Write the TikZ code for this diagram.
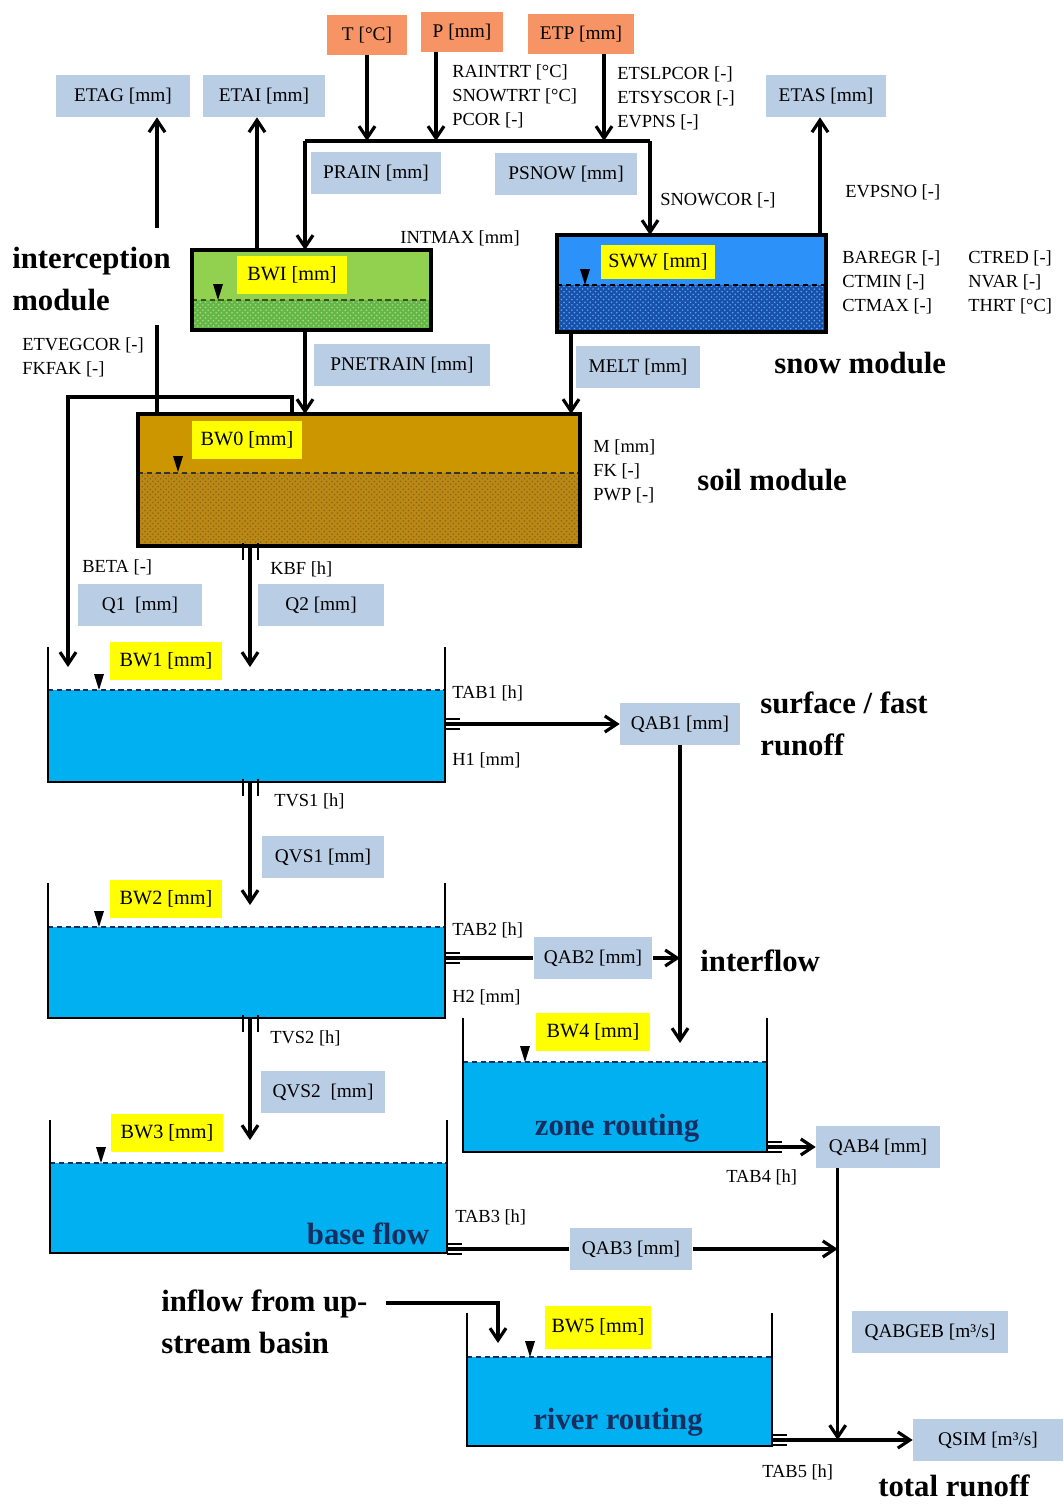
\documentclass[tikz,border=0pt]{standalone}
\usepackage{fontspec}
\setmainfont{Liberation Serif}
\usetikzlibrary{arrows.meta, positioning, patterns, calc}

\definecolor{inputorange}{RGB}{246,148,102}
\definecolor{fluxgrey}{RGB}{185,205,228}
\definecolor{labelyellow}{RGB}{255,255,0}
\definecolor{watercol}{RGB}{0,176,240}
\definecolor{leafgreen}{RGB}{146,208,80}
\definecolor{leafdark}{RGB}{100,182,72}
\definecolor{snowblue}{RGB}{45,145,250}
\definecolor{snowdark}{RGB}{25,80,170}
\definecolor{soilbrown}{RGB}{204,150,0}
\definecolor{soildark}{RGB}{186,136,22}
\definecolor{routenavy}{RGB}{22,45,95}

\begin{document}
\begin{tikzpicture}[x=0.02cm, y=-0.02cm,
        input/.style={fill=inputorange, minimum height=0.8cm, inner sep=1pt, font=\fontsize{11}{13}\selectfont},
        flux/.style={fill=fluxgrey, minimum height=0.84cm, inner sep=1pt, font=\fontsize{11}{13}\selectfont},
        storage/.style={fill=labelyellow, minimum height=0.76cm, inner sep=1pt, font=\fontsize{11.5}{13}\selectfont},
        param/.style={anchor=west, inner sep=0pt, align=left, font=\fontsize{10.5}{13.7}\selectfont},
        module/.style={anchor=west, inner sep=0pt, align=left, font=\fontsize{17.5}{23.8}\selectfont\bfseries},
        routing/.style={inner sep=0pt, text=routenavy, font=\fontsize{17.5}{20}\selectfont\bfseries},
        reservoir/.style={inner sep=0pt, outer sep=0pt},
        water/.style={reservoir, fill=watercol},
        bed/.style 2 args={fill=#1, postaction={pattern=crosshatch dots, pattern color=#2}},
        box/.style={line width=2pt},
        wall/.style={line width=1.4pt},
        surface/.style={line width=1pt, dash pattern=on 3pt off 2pt, routenavy},
        link/.style={line width=1.8pt},
        flow/.style={link, -{Straight Barb[length=2.4mm, width=3.2mm]}},
        pipe/.style={line width=1.1pt},
        surf/.pic={\fill (-5,-16) -- (5,-16) -- (0,0) -- cycle;}
    ]
    \useasboundingbox (0,0) rectangle (1064,1504);

    % Meteorological input
    \node[input, minimum width=1.62cm] (temp) at (367,35) {T [°C]};
    \node[input, minimum width=1.66cm] (prec) at (462,32) {P [mm]};
    \node[input, minimum width=2.14cm] (etp) at (581,34) {ETP [mm]};

    % Evaporation outputs
    \node[flux, minimum width=2.68cm] (etag) at (123,96) {ETAG [mm]};
    \node[flux, minimum width=2.46cm] (etai) at (264,96) {ETAI [mm]};
    \node[flux, minimum width=2.4cm] (etas) at (826,96) {ETAS [mm]};

    % Rain / snow split
    \coordinate (rainsplit) at (305,141);
    \coordinate (snowsplit) at (650,141);
    \node[flux, minimum width=2.6cm] (prain) at (376,173) {PRAIN [mm]};
    \node[flux, minimum width=2.86cm] (psnow) at (566,174) {PSNOW [mm]};

    % Parameters of the upper modules
    \node[param] (ptrain) at (452,96) {RAINTRT [°C]\\SNOWTRT [°C]\\PCOR [-]};
    \node[param] (petcor) at (617,98) {ETSLPCOR [-]\\ETSYSCOR [-]\\EVPNS [-]};
    \node[param] (psnowcor) at (660,200) {SNOWCOR [-]};
    \node[param] (pintmax) at (400,238) {INTMAX [mm]};
    \node[param] (pevpsno) at (845,192) {EVPSNO [-]};
    \node[param] (psnowa) at (842,282) {BAREGR [-]\\CTMIN [-]\\CTMAX [-]};
    \node[param] (psnowb) at (968,282) {CTRED [-]\\NVAR [-]\\THRT [°C]};
    \node[param] (pveg) at (22,357) {ETVEGCOR [-]\\FKFAK [-]};

    % Interception module
    \node[reservoir, fill=leafgreen, minimum width=4.78cm, minimum height=1.6cm] (bwi) at (311.5,290) {};
    \fill[bed={leafdark}{leafgreen!75!white}] (bwi.south west) rectangle ([yshift=0.6cm]bwi.south east);
    \draw[surface, leafgreen!40!black] ([yshift=0.6cm]bwi.south west) -- ([yshift=0.6cm]bwi.south east);
    \draw[box] (bwi.south west) rectangle (bwi.north east);
    \node[storage, minimum width=2.22cm] (bwilabel) at (292,275) {BWI [mm]};
    \pic at (218,300) {surf};

    % Snow module
    \node[reservoir, fill=snowblue, minimum width=5.38cm, minimum height=1.94cm] (sww) at (691.5,283.5) {};
    \fill[bed={snowdark}{snowblue!80!white}] (sww.south west) rectangle ([yshift=0.94cm]sww.south east);
    \draw[surface, black] ([yshift=0.94cm]sww.south west) -- ([yshift=0.94cm]sww.south east);
    \draw[box] (sww.south west) rectangle (sww.north east);
    \node[storage, minimum width=2.3cm, minimum height=0.7cm] (swwlabel) at (658,262) {SWW [mm]};
    \pic at (585,285) {surf};

    % Soil module
    \node[reservoir, fill=soilbrown, minimum width=8.84cm, minimum height=2.64cm] (bwo) at (359,480) {};
    \fill[bed={soildark}{soildark!75!black}] (bwo.south west) rectangle ([yshift=1.46cm]bwo.south east);
    \draw[surface, black!80] ([yshift=1.46cm]bwo.south west) -- ([yshift=1.46cm]bwo.south east);
    \draw[box] (bwo.south west) rectangle (bwo.north east);
    \node[storage, minimum width=2.2cm] (bwolabel) at (247,440) {BW0 [mm]};
    \pic at (178,472) {surf};
    \node[param] (psoil) at (593,471) {M [mm]\\FK [-]\\PWP [-]};

    % Runoff generation
    \node[param] (pbeta) at (82,567) {BETA [-]};
    \node[param] (pkbf) at (270,569) {KBF [h]};
    \node[flux, minimum width=2.5cm] (qone) at (140,605) {Q1\ \ [mm]};
    \node[flux, minimum width=2.52cm] (qtwo) at (321,605) {Q2 [mm]};

    % Tank 1 (surface / fast runoff)
    \node[water, minimum width=7.94cm, minimum height=1.84cm] (tankone) at (246.5,736) {};
    \draw[surface] (tankone.north west) -- (tankone.north east);
    \draw[wall] ([yshift=0.86cm]tankone.north west) -- (tankone.south west) -- (tankone.south east) -- ([yshift=0.86cm]tankone.north east);
    \node[storage, minimum width=2.26cm] (bwone) at (166,661) {BW1 [mm]};
    \pic at (99,690) {surf};
    \node[param] (ptabone) at (452,693) {TAB1 [h]};
    \node[param] (phone) at (452,760) {H1 [mm]};
    \node[param] (ptvsone) at (274,801) {TVS1 [h]};
    \node[flux, minimum width=2.4cm] (qabone) at (680,724) {QAB1 [mm]};
    \node[flux, minimum width=2.44cm] (qvsone) at (323,857) {QVS1 [mm]};

    % Tank 2 (interflow)
    \node[water, minimum width=7.94cm, minimum height=1.82cm] (tanktwo) at (246.5,972.5) {};
    \draw[surface] (tanktwo.north west) -- (tanktwo.north east);
    \draw[wall] ([yshift=0.88cm]tanktwo.north west) -- (tanktwo.south west) -- (tanktwo.south east) -- ([yshift=0.88cm]tanktwo.north east);
    \node[storage, minimum width=2.26cm] (bwtwo) at (166,899) {BW2 [mm]};
    \pic at (99,927) {surf};
    \node[param] (ptabtwo) at (452,930) {TAB2 [h]};
    \node[param] (phtwo) at (452,997) {H2 [mm]};
    \node[param] (ptvstwo) at (270,1038) {TVS2 [h]};
    \node[flux, minimum width=2.38cm] (qabtwo) at (593,958) {QAB2 [mm]};
    \node[flux, minimum width=2.5cm] (qvstwo) at (323,1092) {QVS2\ \ [mm]};

    % Tank 3 (base flow)
    \node[water, minimum width=7.94cm, minimum height=1.8cm] (tankthree) at (248.5,1208) {};
    \draw[surface] (tankthree.north west) -- (tankthree.north east);
    \draw[wall] ([yshift=0.86cm]tankthree.north west) -- (tankthree.south west) -- (tankthree.south east) -- ([yshift=0.86cm]tankthree.north east);
    \node[storage, minimum width=2.24cm] (bwthree) at (167,1133) {BW3 [mm]};
    \pic at (101,1163) {surf};
    \node[routing] (baseflow) at (368,1234) {base flow};
    \node[param] (ptabthree) at (455,1217) {TAB3 [h]};
    \node[flux, minimum width=2.46cm] (qabthree) at (631,1249) {QAB3 [mm]};

    % Tank 4 (zone routing)
    \node[water, minimum width=6.08cm, minimum height=1.8cm] (tankfour) at (615,1107) {};
    \draw[surface] (tankfour.north west) -- (tankfour.north east);
    \draw[wall] ([yshift=0.88cm]tankfour.north west) -- (tankfour.south west) -- (tankfour.south east) -- ([yshift=0.88cm]tankfour.north east);
    \node[storage, minimum width=2.3cm] (bwfour) at (593,1032) {BW4 [mm]};
    \pic at (525,1062) {surf};
    \node[routing] (zonerouting) at (617,1128) {zone routing};
    \node[param] (ptabfour) at (726,1177) {TAB4 [h]};
    \node[flux, minimum width=2.48cm] (qabfour) at (878,1147) {QAB4 [mm]};

    % Tank 5 (river routing)
    \node[water, minimum width=6.1cm, minimum height=1.78cm] (tankfive) at (619.5,1401.5) {};
    \draw[surface] (tankfive.north west) -- (tankfive.north east);
    \draw[wall] ([yshift=0.88cm]tankfive.north west) -- (tankfive.south west) -- (tankfive.south east) -- ([yshift=0.88cm]tankfive.north east);
    \node[storage, minimum width=2.14cm, minimum height=0.86cm] (bwfive) at (598,1327) {BW5 [mm]};
    \pic at (530,1357) {surf};
    \node[routing] (riverrouting) at (618,1422) {river routing};
    \node[param] (ptabfive) at (762,1472) {TAB5 [h]};
    \node[flux, minimum width=3.12cm] (qabgeb) at (930,1332) {QABGEB [m³/s]};
    \node[flux, minimum width=3.0cm] (qsim) at (988,1440) {QSIM [m³/s]};

    % Module labels
    \node[module] (intermod) at (12,279) {interception\\module};
    \node[module] (snowmod) at (774,363) {snow module};
    \node[module] (soilmod) at (697,480) {soil module};
    \node[module] (fastmod) at (760,724) {surface / fast\\runoff};
    \node[module] (interflow) at (700,961) {interflow};
    \node[module] (inflow) at (161,1322) {inflow from up-\\stream basin};
    \node[module] (totalmod) at (878,1486) {total runoff};

    % Input arrows and split
    \draw[flow] (temp.south) -- (temp.south |- rainsplit);
    \draw[flow] ([xshift=-0.52cm]prec.south) -- ([xshift=-0.52cm]prec.south |- rainsplit);
    \draw[flow] ([xshift=0.46cm]etp.south) -- ([xshift=0.46cm]etp.south |- rainsplit);
    \draw[link] (rainsplit) -- (snowsplit);
    \draw[flow] (rainsplit) -- (rainsplit |- bwi.north);
    \draw[flow] (snowsplit) -- (snowsplit |- sww.north);

    % Evaporation
    \coordinate (etagfoot) at (157,228);
    \coordinate (etvegtop) at (157,325);
    \draw[flow] (etagfoot) -- (etagfoot |- etag.south);
    \draw[link] (bwo.north -| etvegtop) -- (etvegtop);
    \draw[flow] ([xshift=1.3cm]bwi.north west) -- ([xshift=1.3cm]bwi.north west |- etai.south);
    \draw[flow] ([xshift=-0.12cm]sww.north east) -- ([xshift=-0.12cm]sww.north east |- etas.south);

    % Net rain and melt
    \node[flux, minimum width=3.54cm] (pnetrain) at (402,365) {PNETRAIN [mm]};
    \node[flux, minimum width=2.48cm] (melt) at (638,367) {MELT [mm]};
    \draw[flow] (rainsplit |- bwi.south) -- (rainsplit |- bwo.north);
    \draw[flow] ([xshift=0.28cm]sww.south west) -- ([xshift=0.28cm]sww.south west |- bwo.north);

    % Soil outflows
    \coordinate (loopturn) at (292,397);
    \coordinate (qonein) at (68,667);
    \coordinate (qtwoin) at (250,667);
    \coordinate (soilout) at (bwo.south -| qtwoin);
    \draw[flow] (bwo.north -| loopturn) -- (loopturn) -| (qonein);
    \draw[flow] (soilout) -- (qtwoin);
    \draw[pipe] ([xshift=-0.14cm,yshift=0.06cm]soilout) -- ++(0,17) ([xshift=0.16cm,yshift=0.06cm]soilout) -- ++(0,17);

    % Tank 1 outflows
    \coordinate (percone) at (250,905);
    \coordinate (oneout) at (tankone.south -| qtwoin);
    \coordinate (oneside) at (tankone.east |- qabone);
    \draw[flow] (oneout) -- (percone);
    \draw[pipe] ([xshift=-0.14cm,yshift=0.06cm]oneout) -- ++(0,17) ([xshift=0.16cm,yshift=0.06cm]oneout) -- ++(0,17);
    \draw[flow] (oneside) -- (qabone.west);
    \draw[pipe] ([yshift=0.1cm]oneside) -- ++(15,0) ([yshift=-0.1cm]oneside) -- ++(15,0);
    \coordinate (fourin) at (680,1043);
    \draw[flow] (qabone.south) -- (fourin);

    % Tank 2 outflows
    \coordinate (perctwo) at (250,1140);
    \coordinate (twoout) at (tanktwo.south -| qtwoin);
    \coordinate (twoside) at (tanktwo.east |- qabtwo);
    \draw[flow] (twoout) -- (perctwo);
    \draw[pipe] ([xshift=-0.14cm,yshift=0.06cm]twoout) -- ++(0,17) ([xshift=0.16cm,yshift=0.06cm]twoout) -- ++(0,17);
    \draw[link] (twoside) -- (qabtwo.west);
    \draw[pipe] ([yshift=0.1cm]twoside) -- ++(15,0) ([yshift=-0.1cm]twoside) -- ++(15,0);
    \draw[flow] (qabtwo.east) -- (qabtwo.east -| qabone.south);

    % Zone routing and base flow to total runoff
    \coordinate (fourside) at (tankfour.east |- qabfour);
    \coordinate (sumline) at ([xshift=0.44cm]qabfour.south west);
    \draw[flow] (fourside) -- (qabfour.west);
    \draw[pipe] ([yshift=0.1cm]fourside) -- ++(15,0) ([yshift=-0.1cm]fourside) -- ++(15,0);
    \draw[flow] (sumline) -- (sumline |- qsim.west);
    \coordinate (threeside) at (tankthree.east |- qabthree);
    \draw[link] (threeside) -- (qabthree.west);
    \draw[pipe] ([yshift=0.1cm]threeside) -- ++(15,0) ([yshift=-0.1cm]threeside) -- ++(15,0);
    \draw[flow] (qabthree.east) -- (qabthree.east -| sumline);

    % River routing
    \coordinate (inflowout) at (386,1303);
    \coordinate (fivein) at (498,1343);
    \draw[flow] (inflowout) -| (fivein);
    \coordinate (fiveside) at (tankfive.east |- qsim);
    \draw[flow] (fiveside) -- (qsim.west);
    \draw[pipe] ([yshift=0.1cm]fiveside) -- ++(15,0) ([yshift=-0.1cm]fiveside) -- ++(15,0);

\end{tikzpicture}
\end{document}
